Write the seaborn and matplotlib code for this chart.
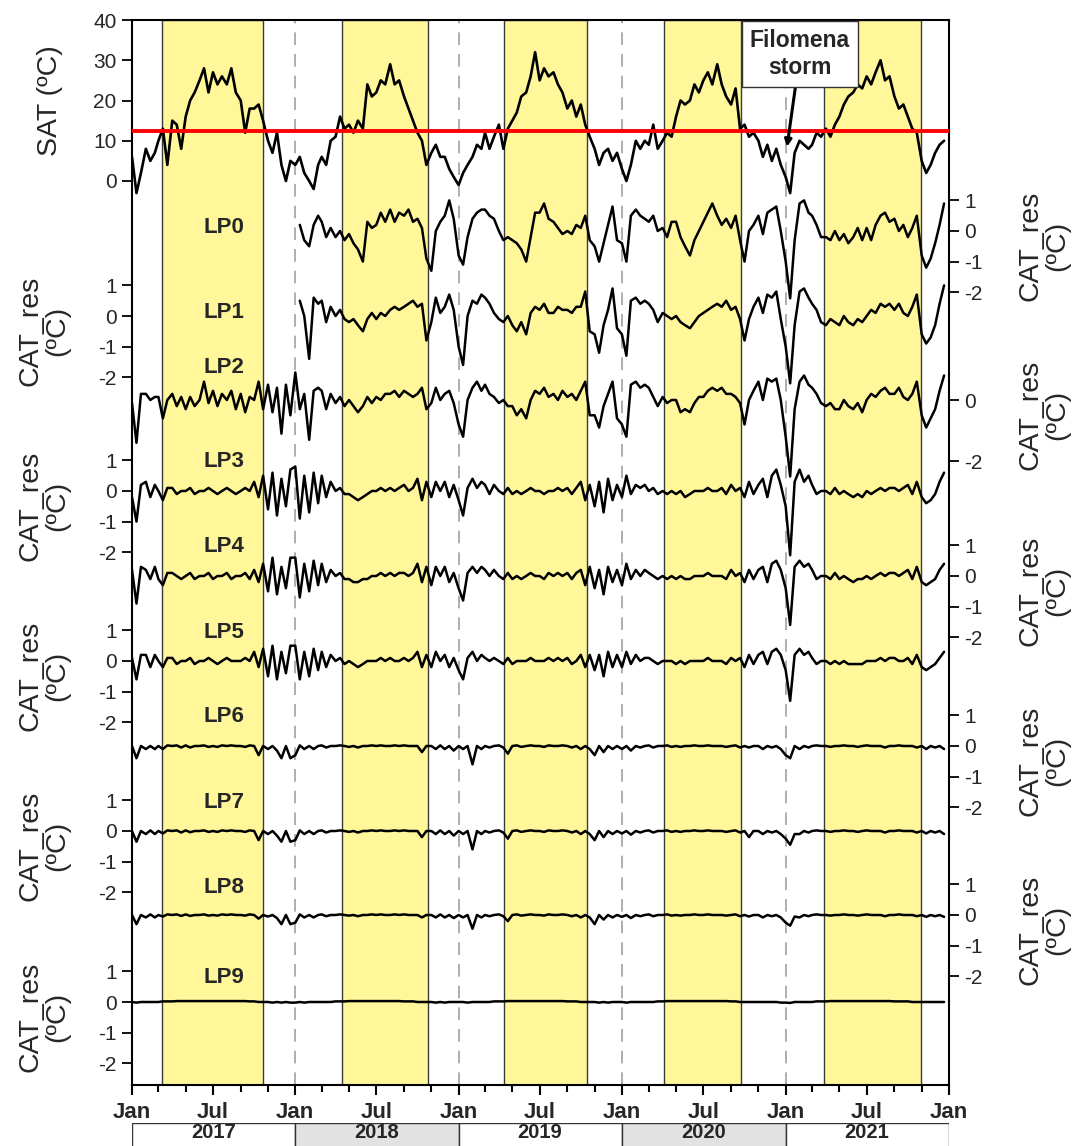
import numpy as np
import pandas as pd
import matplotlib
matplotlib.use('Agg')
import matplotlib.pyplot as plt
import matplotlib.dates as mdates
import matplotlib.transforms as mtransforms
import seaborn as sns

sns.set_theme(style='ticks')
plt.rcParams['font.family'] = ['Liberation Sans', 'DejaVu Sans']
plt.rcParams['axes.unicode_minus'] = False

years = [2017, 2018, 2019, 2020, 2021]
sample_days = [1, 11, 21]

sat = [6, -3, 2, 8, 5, 7, 10, 13, 4, 15, 14, 8, 16, 20, 22, 25, 28, 22, 27, 24, 26, 24, 28, 22, 20, 12, 18, 18, 19, 15, 10, 7, 12, 4, 0, 5,
       4, 6, 2, 0, -2, 4, 6, 4, 10, 11, 16, 13, 14, 12, 15, 13, 24, 21, 22, 25, 24, 29, 24, 25, 21, 18, 15, 12, 10, 4, 7, 9, 6, 6, 3, 1,
       -1, 2, 4, 6, 9, 8, 12, 8, 11, 14, 8, 13, 15, 17, 21, 22, 26, 32, 25, 28, 26, 27, 24, 22, 18, 20, 16, 19, 14, 11, 8, 4, 7, 8, 5, 7,
       3, 0, 4, 10, 8, 10, 9, 14, 8, 10, 12, 11, 16, 20, 19, 20, 24, 22, 25, 27, 24, 29, 24, 21, 19, 23, 13, 14, 11, 12, 10, 6, 9, 5, 8, 4,
       1, -3, 7, 10, 9, 8, 9, 12, 11, 13, 11, 14, 16, 19, 21, 22, 24, 23, 26, 24, 27, 30, 25, 26, 21, 18, 19, 16, 13, 12, 5, 2, 4, 7, 9, 10]

# LP0 and LP1 start on 2018-01-11
lp0 = [0.2, -0.3, -0.5, 0.2, 0.5, 0.3, -0.2, 0.1, -0.2, 0.0, -0.3, -0.1, -0.4, -0.6, -1.0, 0.3, 0.1, 0.2, 0.6, 0.3, 0.7, 0.3, 0.6, 0.5, 0.7, 0.3, 0.4, 0.1, -0.9, -1.3, 0.0, 0.3, 0.5, 1.0, 0.4,
       -0.8, -1.1, -0.2, 0.4, 0.6, 0.7, 0.7, 0.5, 0.4, 0.0, -0.3, -0.2, -0.3, -0.4, -0.6, -1.0, -0.2, 0.6, 0.6, 0.9, 0.4, 0.3, 0.1, -0.1, 0.0, -0.1, 0.2, 0.1, 0.5, -0.3, -0.5, -1.0, -0.4, 0.2, 0.8, -0.3,
       -0.4, -1.0, 0.5, 0.7, 0.5, 0.4, 0.3, 0.5, 0.0, 0.1, -0.2, 0.3, 0.3, -0.2, -0.5, -0.8, -0.3, 0.0, 0.3, 0.6, 0.9, 0.5, 0.2, 0.4, 0.1, 0.5, -0.3, -1.0, 0.0, 0.2, 0.5, -0.1, 0.6, 0.7, 0.8, 0.0,
       -1.0, -2.2, -0.3, 0.9, 1.0, 0.6, 0.5, 0.2, -0.2, -0.2, -0.3, 0.0, -0.3, -0.1, -0.4, -0.2, 0.1, -0.3, 0.1, -0.3, 0.2, 0.5, 0.6, 0.3, 0.4, 0.0, 0.2, -0.2, 0.1, 0.5, -0.8, -1.2, -0.9, -0.4, 0.2, 0.9]
lp1 = [0.5, 0.0, -1.4, 0.6, 0.4, 0.5, -0.2, 0.3, 0.0, 0.2, -0.1, -0.2, -0.1, -0.3, -0.5, -0.1, 0.1, -0.1, 0.1, 0.0, 0.2, 0.3, 0.2, 0.3, 0.4, 0.5, 0.3, 0.4, -0.8, -0.2, 0.6, 0.1, 0.3, 0.7, 0.2,
       -1.0, -1.6, 0.0, 0.5, 0.4, 0.7, 0.6, 0.4, 0.1, -0.1, -0.2, 0.0, -0.3, -0.5, -0.2, -0.6, 0.1, 0.3, 0.2, 0.4, 0.1, 0.1, 0.3, 0.2, 0.2, 0.1, 0.3, 0.3, 0.8, -0.5, -0.6, -1.2, -0.3, 0.2, 0.9, -0.4,
       -0.6, -1.3, 0.5, 0.6, 0.4, 0.5, 0.4, 0.2, -0.2, 0.1, 0.0, -0.1, 0.0, -0.2, -0.3, -0.4, -0.2, 0.0, 0.1, 0.2, 0.3, 0.4, 0.3, 0.5, 0.2, 0.3, -0.1, -0.8, -0.1, 0.3, 0.6, 0.1, 0.7, 0.6, 0.8, -0.1,
       -1.0, -2.2, -0.3, 0.8, 0.9, 0.6, 0.4, 0.2, -0.2, -0.3, -0.1, -0.2, -0.3, 0.0, -0.2, -0.3, -0.1, -0.2, 0.0, 0.2, 0.1, 0.4, 0.3, 0.4, 0.2, 0.4, 0.1, 0.0, 0.3, 0.7, -0.6, -0.9, -0.7, -0.3, 0.4, 1.0]
lp2 = [-0.1, -1.4, 0.2, 0.2, 0.0, 0.1, 0.1, -0.6, 0.0, 0.2, -0.2, 0.1, -0.3, 0.1, -0.2, 0.0, 0.6, -0.1, 0.3, -0.2, 0.2, 0.0, 0.3, -0.3, 0.2, -0.4, 0.1, 0.0, 0.6, -0.3, 0.5, -0.4, 0.4, -1.1, 0.5, -0.5,
       0.9, -0.3, 0.2, -1.3, 0.3, 0.4, 0.3, -0.3, 0.2, -0.1, 0.1, -0.2, 0.0, -0.2, -0.4, -0.2, 0.1, -0.1, 0.1, 0.0, 0.2, 0.2, 0.3, 0.1, 0.3, 0.2, 0.1, 0.2, 0.4, -0.3, -0.1, 0.4, 0.0, 0.2, 0.3, -0.1,
       -0.8, -1.2, 0.0, 0.4, 0.6, 0.3, 0.5, 0.2, 0.1, -0.1, 0.0, -0.2, -0.2, -0.5, -0.3, -0.6, 0.0, 0.3, 0.2, 0.4, 0.1, 0.2, 0.0, 0.3, 0.1, 0.2, 0.0, 0.3, 0.6, -0.5, -0.5, -0.9, -0.2, 0.2, 0.6, -0.6,
       -0.8, -1.2, 0.5, 0.6, 0.4, 0.5, 0.4, 0.1, -0.2, 0.1, -0.1, 0.0, 0.0, -0.4, -0.3, -0.4, -0.1, 0.1, 0.1, 0.3, 0.4, 0.3, 0.4, 0.2, 0.2, 0.1, -0.1, -0.8, 0.0, 0.3, 0.6, 0.0, 0.7, 0.6, 0.7, 0.0,
       -1.2, -2.5, -0.3, 0.6, 0.8, 0.5, 0.4, 0.2, -0.1, -0.2, -0.1, -0.3, -0.3, 0.0, -0.2, -0.3, -0.1, -0.4, 0.0, 0.2, 0.1, 0.3, 0.4, 0.2, 0.2, 0.4, 0.1, 0.0, 0.2, 0.6, -0.5, -0.9, -0.6, -0.3, 0.3, 0.8]
lp3 = [-0.2, -1.0, 0.2, 0.3, -0.2, 0.2, 0.0, -0.3, 0.1, 0.1, -0.1, 0.0, 0.0, 0.1, -0.1, 0.0, 0.0, 0.1, 0.0, -0.1, 0.0, 0.1, 0.0, -0.1, 0.0, 0.1, 0.0, 0.3, -0.2, 0.5, -0.6, 0.6, -0.8, 0.4, -0.5, 0.7,
       0.8, -0.9, 0.5, -0.7, 0.6, -0.4, 0.5, -0.2, 0.3, 0.0, 0.1, -0.1, -0.1, -0.2, -0.3, -0.2, -0.1, 0.0, 0.0, 0.1, 0.0, 0.1, 0.0, 0.1, 0.2, 0.0, 0.1, 0.4, -0.3, 0.3, -0.2, 0.3, 0.0, 0.3, -0.2, 0.2,
       -0.3, -0.8, 0.1, 0.4, 0.1, 0.3, 0.2, -0.1, 0.2, 0.0, -0.1, 0.1, -0.1, 0.0, -0.1, 0.0, 0.1, 0.0, 0.0, -0.1, 0.0, 0.0, 0.1, 0.0, 0.1, -0.1, 0.1, 0.3, -0.3, 0.2, -0.5, 0.3, -0.7, 0.4, -0.3, 0.2,
       -0.2, 0.5, -0.1, 0.2, 0.1, 0.2, 0.0, 0.1, -0.1, 0.0, -0.1, 0.0, -0.1, 0.0, -0.2, -0.1, 0.0, 0.0, 0.0, 0.1, 0.0, 0.0, 0.1, -0.1, 0.2, 0.0, 0.1, -0.2, 0.3, -0.1, 0.2, 0.4, -0.2, 0.5, 0.7, 0.2,
       -0.5, -2.1, 0.3, 0.7, 0.3, 0.5, 0.2, -0.1, 0.0, 0.0, -0.1, 0.1, -0.1, 0.0, -0.1, -0.2, -0.1, -0.2, 0.0, -0.1, 0.0, 0.1, 0.0, 0.1, 0.1, 0.0, 0.1, 0.2, -0.1, 0.3, -0.2, -0.4, -0.3, -0.1, 0.3, 0.6]
lp4 = [0.2, -0.9, 0.3, 0.2, -0.1, 0.3, -0.1, -0.3, 0.1, 0.1, 0.0, -0.1, 0.0, 0.1, -0.1, 0.0, 0.0, 0.1, -0.1, 0.0, 0.0, 0.1, -0.1, 0.0, 0.0, 0.1, -0.1, 0.2, -0.2, 0.4, -0.5, 0.6, -0.6, 0.3, -0.4, 0.6,
       0.6, -0.7, 0.4, -0.5, 0.5, -0.3, 0.4, -0.2, 0.2, 0.0, 0.1, -0.1, -0.1, -0.2, -0.2, -0.1, -0.1, 0.0, 0.0, 0.1, 0.0, 0.1, 0.0, 0.1, 0.1, 0.0, 0.1, 0.4, -0.2, 0.3, -0.3, 0.3, 0.0, 0.3, -0.2, 0.1,
       -0.4, -0.8, 0.1, 0.3, 0.1, 0.3, 0.2, 0.0, 0.2, 0.0, -0.1, 0.1, -0.1, 0.0, -0.1, 0.0, 0.1, 0.0, 0.0, -0.1, 0.1, 0.0, 0.1, 0.0, 0.1, -0.1, 0.1, 0.2, -0.3, 0.3, -0.4, 0.2, -0.6, 0.3, -0.2, 0.2,
       -0.3, 0.4, -0.1, 0.2, 0.0, 0.2, 0.1, 0.0, -0.1, 0.0, -0.1, 0.0, -0.1, 0.0, -0.1, -0.1, 0.0, 0.0, 0.0, 0.1, 0.0, 0.0, 0.0, -0.1, 0.2, 0.0, 0.1, -0.2, 0.2, -0.1, 0.2, 0.3, -0.2, 0.4, 0.5, 0.2,
       -0.4, -1.6, 0.3, 0.5, 0.3, 0.4, 0.2, -0.1, 0.0, 0.0, -0.1, 0.1, -0.1, 0.0, -0.1, -0.2, -0.1, -0.1, 0.0, -0.1, 0.0, 0.1, 0.0, 0.1, 0.1, 0.0, 0.1, 0.2, -0.1, 0.3, -0.2, -0.3, -0.2, -0.1, 0.2, 0.4]
lp5 = [0.1, -0.6, 0.2, 0.2, -0.2, 0.2, 0.0, -0.2, 0.1, 0.1, -0.1, 0.0, 0.0, 0.1, -0.1, 0.0, 0.0, 0.1, 0.0, -0.1, 0.0, 0.1, 0.0, 0.0, 0.0, 0.1, 0.0, 0.3, -0.2, 0.4, -0.5, 0.5, -0.6, 0.3, -0.4, 0.5,
       0.5, -0.6, 0.3, -0.5, 0.4, -0.3, 0.3, -0.2, 0.2, 0.0, 0.1, -0.1, 0.0, -0.1, -0.2, -0.1, 0.0, 0.0, 0.0, 0.1, 0.0, 0.1, 0.0, 0.0, 0.1, 0.0, 0.1, 0.3, -0.2, 0.2, -0.2, 0.3, 0.0, 0.2, -0.2, 0.1,
       -0.3, -0.6, 0.1, 0.3, 0.0, 0.2, 0.1, 0.0, 0.1, 0.0, -0.1, 0.1, -0.1, 0.0, 0.0, 0.0, 0.1, 0.0, 0.0, 0.0, 0.1, 0.0, 0.1, 0.0, 0.1, -0.1, 0.0, 0.2, -0.2, 0.2, -0.3, 0.2, -0.5, 0.3, -0.2, 0.2,
       -0.2, 0.3, -0.1, 0.2, 0.0, 0.1, 0.1, 0.0, -0.1, 0.0, 0.0, 0.0, -0.1, 0.0, -0.1, 0.0, 0.0, 0.0, 0.0, 0.1, 0.0, 0.0, 0.0, -0.1, 0.1, 0.0, 0.1, -0.2, 0.2, -0.1, 0.2, 0.3, -0.1, 0.3, 0.4, 0.2,
       -0.3, -1.3, 0.2, 0.4, 0.2, 0.3, 0.1, -0.1, 0.0, 0.0, -0.1, 0.0, -0.1, 0.0, -0.1, -0.1, -0.1, -0.1, 0.0, 0.0, 0.0, 0.1, 0.0, 0.1, 0.1, 0.0, 0.0, 0.1, -0.1, 0.2, -0.2, -0.3, -0.2, -0.1, 0.1, 0.3]
lp6 = [0.0, -0.4, 0.0, -0.1, 0.0, -0.1, 0.0, -0.1, 0.02, 0.0, 0.02, -0.05, 0.02, -0.05, 0.0, 0.0, 0.02, -0.03, 0.0, -0.03, 0.02, 0.0, 0.02, 0.0, 0.0, -0.03, 0.02, 0.0, -0.3, 0.0, -0.1, 0.0, -0.15, -0.4, 0.0, -0.4,
       -0.3, 0.02, -0.1, 0.0, -0.1, 0.0, 0.02, -0.05, 0.0, 0.0, 0.02, 0.0, -0.03, 0.0, -0.05, 0.0, 0.0, 0.02, 0.0, 0.02, 0.0, 0.0, 0.02, 0.0, 0.02, 0.0, 0.0, 0.0, -0.2, 0.0, 0.0, -0.1, 0.02, -0.1, 0.0, -0.15,
       0.0, -0.1, 0.0, -0.6, 0.0, -0.1, 0.0, -0.05, 0.0, 0.02, -0.05, -0.25, 0.0, 0.02, -0.03, 0.0, 0.02, 0.0, 0.0, -0.03, 0.02, 0.0, 0.0, 0.02, 0.0, -0.05, 0.0, -0.1, 0.0, -0.1, -0.3, 0.0, -0.2, 0.0, -0.1, 0.0,
       -0.1, 0.0, -0.15, 0.0, -0.05, 0.0, 0.02, -0.05, 0.0, 0.0, 0.02, -0.03, 0.0, -0.03, 0.0, 0.0, 0.02, 0.0, 0.0, 0.02, 0.0, 0.0, 0.0, -0.03, 0.0, 0.02, -0.05, 0.0, -0.05, 0.0, 0.0, -0.1, 0.0, -0.05, 0.0, -0.1,
       -0.3, -0.4, 0.0, -0.1, 0.0, -0.05, 0.0, 0.02, 0.0, 0.0, -0.03, 0.0, 0.0, 0.02, 0.0, 0.0, -0.03, 0.0, 0.02, 0.0, 0.0, 0.0, -0.05, 0.0, 0.0, 0.02, 0.0, 0.0, 0.0, -0.05, 0.0, -0.1, 0.0, -0.05, 0.0, -0.1]
lp7 = [0.0, -0.35, 0.0, -0.1, 0.02, -0.1, 0.0, -0.08, 0.02, 0.0, 0.02, -0.05, 0.02, -0.04, 0.0, 0.0, 0.02, -0.03, 0.0, -0.03, 0.02, 0.0, 0.02, 0.0, 0.0, -0.03, 0.02, 0.0, -0.3, 0.0, -0.1, 0.0, -0.15, -0.35, 0.0, -0.35,
       -0.3, 0.02, -0.1, 0.0, -0.1, 0.0, 0.02, -0.05, 0.0, 0.0, 0.02, 0.0, -0.03, 0.0, -0.05, 0.0, 0.0, 0.02, 0.0, 0.02, 0.0, 0.0, 0.02, 0.0, 0.02, 0.0, 0.0, 0.0, -0.2, 0.0, 0.0, -0.1, 0.02, -0.1, 0.0, -0.15,
       0.0, -0.1, 0.0, -0.6, 0.0, -0.1, 0.0, -0.05, 0.0, 0.02, -0.05, -0.25, 0.0, 0.02, -0.03, 0.0, 0.02, 0.0, 0.0, -0.03, 0.02, 0.0, 0.0, 0.02, 0.0, -0.05, 0.0, -0.1, 0.0, -0.1, -0.3, 0.0, -0.2, 0.0, -0.1, 0.0,
       -0.08, 0.0, -0.12, 0.0, -0.05, 0.0, 0.02, -0.05, 0.0, 0.0, 0.02, -0.03, 0.0, -0.03, 0.0, 0.0, 0.02, 0.0, 0.0, 0.02, 0.0, 0.0, 0.0, -0.03, 0.0, 0.02, -0.05, 0.0, -0.2, 0.0, 0.0, -0.1, 0.0, -0.05, 0.0, -0.1,
       -0.25, -0.45, -0.1, -0.1, 0.0, -0.05, 0.0, 0.02, 0.0, 0.0, -0.03, 0.0, 0.0, 0.02, 0.0, 0.0, -0.03, 0.0, 0.02, 0.0, 0.0, 0.0, -0.05, 0.0, 0.0, 0.02, 0.0, 0.0, 0.0, -0.05, 0.0, -0.08, 0.0, -0.05, 0.0, -0.1]
lp8 = [0.0, -0.3, 0.0, -0.08, 0.02, -0.08, 0.0, -0.05, 0.02, 0.0, 0.02, -0.03, 0.02, -0.03, 0.0, 0.0, 0.02, -0.02, 0.0, -0.02, 0.02, 0.0, 0.02, 0.0, 0.0, -0.02, 0.02, 0.0, -0.12, 0.0, -0.05, 0.0, -0.1, -0.3, 0.0, -0.3,
       -0.25, 0.02, -0.08, 0.0, -0.08, 0.0, 0.02, -0.04, 0.0, 0.0, 0.02, 0.0, -0.02, 0.0, -0.04, 0.0, 0.0, 0.02, 0.0, 0.02, 0.0, 0.0, 0.02, 0.0, 0.02, 0.0, 0.0, 0.0, -0.08, 0.0, 0.0, -0.08, 0.02, -0.08, 0.0, -0.1,
       0.0, -0.08, 0.0, -0.45, 0.0, -0.08, 0.0, -0.04, 0.0, 0.02, -0.04, -0.2, 0.0, 0.02, -0.02, 0.0, 0.02, 0.0, 0.0, -0.02, 0.02, 0.0, 0.0, 0.02, 0.0, -0.04, 0.0, -0.08, 0.0, -0.08, -0.3, 0.0, -0.15, 0.0, -0.08, 0.0,
       -0.06, 0.0, -0.1, 0.0, -0.04, 0.0, 0.02, -0.04, 0.0, 0.0, 0.02, -0.02, 0.0, -0.02, 0.0, 0.0, 0.02, 0.0, 0.0, 0.02, 0.0, 0.0, 0.0, -0.02, 0.0, 0.02, -0.04, 0.0, -0.05, 0.0, 0.0, -0.08, 0.0, -0.04, 0.0, -0.08,
       -0.25, -0.35, -0.05, -0.08, 0.0, -0.04, 0.0, 0.02, 0.0, 0.0, -0.02, 0.0, 0.0, 0.02, 0.0, 0.0, -0.02, 0.0, 0.02, 0.0, 0.0, 0.0, -0.04, 0.0, 0.0, 0.02, 0.0, 0.0, 0.0, -0.04, 0.0, -0.06, 0.0, -0.04, 0.0, -0.06]
lp9 = [0.0, -0.02, 0.0, 0.0, 0.0, 0.0, 0.0, 0.02, 0.02, 0.02, 0.03, 0.03, 0.03, 0.03, 0.03, 0.03, 0.03, 0.03, 0.03, 0.03, 0.03, 0.03, 0.03, 0.03, 0.03, 0.03, 0.02, 0.02, 0.0, 0.0, 0.0, -0.02, 0.0, -0.02, 0.0, -0.02,
       -0.02, 0.0, -0.02, 0.0, 0.0, 0.0, 0.0, 0.0, 0.0, 0.02, 0.02, 0.02, 0.03, 0.03, 0.03, 0.03, 0.03, 0.03, 0.03, 0.03, 0.03, 0.03, 0.03, 0.03, 0.02, 0.02, 0.02, 0.0, 0.0, 0.0, 0.0, -0.02, 0.0, -0.02, 0.0, 0.0,
       0.0, 0.0, -0.02, 0.0, 0.0, 0.0, 0.0, 0.0, 0.02, 0.02, 0.02, 0.03, 0.03, 0.03, 0.03, 0.03, 0.03, 0.03, 0.03, 0.03, 0.03, 0.03, 0.03, 0.03, 0.02, 0.02, 0.02, 0.0, 0.0, 0.0, 0.0, -0.02, 0.0, -0.02, 0.0, 0.0,
       0.0, -0.02, 0.0, 0.0, 0.0, 0.0, 0.0, 0.0, 0.02, 0.02, 0.03, 0.03, 0.03, 0.03, 0.03, 0.03, 0.03, 0.03, 0.03, 0.03, 0.03, 0.03, 0.03, 0.03, 0.02, 0.02, 0.0, 0.0, 0.0, 0.0, 0.0, 0.0, 0.0, 0.0, 0.0, -0.02,
       -0.02, -0.03, 0.0, 0.0, 0.0, 0.0, 0.0, 0.02, 0.02, 0.02, 0.03, 0.03, 0.03, 0.03, 0.03, 0.03, 0.03, 0.03, 0.03, 0.03, 0.03, 0.03, 0.03, 0.03, 0.02, 0.02, 0.02, 0.02, 0.0, 0.0, 0.0, 0.0, 0.0, 0.0, 0.0, 0.0]

lp_names = ['LP0', 'LP1', 'LP2', 'LP3', 'LP4', 'LP5', 'LP6', 'LP7', 'LP8', 'LP9']
lp_series = [lp0, lp1, lp2, lp3, lp4, lp5, lp6, lp7, lp8, lp9]

# warm season (SAT above threshold) shading
warm_start = ['2017-03-10', '2018-04-16', '2019-04-12', '2020-04-04', '2021-03-28']
warm_end = ['2017-10-20', '2018-10-24', '2019-10-14', '2020-09-24', '2021-10-30']
sat_threshold = 12.3

# ---- build the date grid ----
dates = pd.to_datetime([f'{y}-{m:02d}-{d:02d}' for y in years for m in range(1, 13) for d in sample_days])

# ---- layout in pixels ----
W, H = 1076, 1146
x_left, x_right = 132, 949
y_top, y_bot = 20, 1085
rect = [x_left / W, 1 - y_bot / H, (x_right - x_left) / W, (y_bot - y_top) / H]
sat_px = 4.025
sat_zero = 181
unit_px = 30.6
lp_zero = [231, 316, 400, 491, 576, 661, 746, 831, 915, 1002]
lp_label_y = [0.1, 0.13, 1.05, 0.95, 0.95, 0.92, 0.95, 0.92, 0.9, 0.8]

xmin, xmax = pd.Timestamp('2017-01-01'), pd.Timestamp('2022-01-01')

fig = plt.figure(figsize=(W / 100, H / 100), dpi=100)
ax = fig.add_axes(rect)
ax.set_xlim(xmin, xmax)
ax.set_ylim(-(y_bot - sat_zero) / sat_px, (sat_zero - y_top) / sat_px)

for s, e in zip(warm_start, warm_end):
    ax.axvspan(pd.Timestamp(s), pd.Timestamp(e), facecolor='#fff79a', edgecolor='#3a3a3a', lw=1, zorder=0)
for y in years[1:]:
    ax.axvline(pd.Timestamp(f'{y}-01-01'), color='#a8a8a8', lw=1.3, ls=(0, (7, 5)), zorder=0.5)

ax.axhline(sat_threshold, color='red', lw=2.8, zorder=4)
sns.lineplot(x=dates, y=sat, ax=ax, color='black', lw=1.9, zorder=3)
ax.set_xlim(xmin, xmax)
ax.set_xlabel('')
ax.set_ylabel('')
ax.set_yticks([0, 10, 20, 30, 40])
for sp in ax.spines.values():
    sp.set_visible(True)
    sp.set_color('black')
    sp.set_linewidth(1.5)

ax.xaxis.set_major_locator(mdates.MonthLocator(bymonth=[1, 7]))
ax.xaxis.set_major_formatter(mdates.DateFormatter('%b'))
ax.xaxis.set_minor_locator(mdates.MonthLocator(bymonth=[3, 5, 9, 11]))
ax.tick_params(axis='x', which='major', length=7, width=1.5, labelsize=16, pad=5, color='black')
ax.tick_params(axis='x', which='minor', length=5, width=1.5, color='black')
ax.tick_params(axis='y', length=7, width=1.3, labelsize=15, pad=4, color='black')
for lab in ax.get_xticklabels():
    lab.set_fontweight('bold')

left_tf = mtransforms.blended_transform_factory(ax.transAxes, ax.transData)
ax.text(-0.1, 20, 'SAT (ºC)', transform=left_tf, rotation=90, ha='center', va='center', fontsize=20.5)

ax.annotate('Filomena\nstorm', xy=(pd.Timestamp('2021-01-04'), 8.5), xytext=(pd.Timestamp('2021-02-02'), 31.5),
            ha='center', va='center', fontsize=16.5, fontweight='bold', zorder=10,
            bbox=dict(boxstyle='square,pad=0.35', fc='white', ec='#333333', lw=1),
            arrowprops=dict(arrowstyle='-|>', color='black', lw=2.2, mutation_scale=10, shrinkA=0, shrinkB=0))

# ---- stacked residual series, each on its own y scale ----
for k, (name, vals, y0) in enumerate(zip(lp_names, lp_series, lp_zero)):
    a = fig.add_axes(rect, label=name)
    a.patch.set_visible(False)
    x = dates[len(dates) - len(vals):]
    sns.lineplot(x=x, y=vals, ax=a, color='black', lw=1.8)
    a.set_xlim(xmin, xmax)
    a.set_ylim(-(y_bot - y0) / unit_px, (y0 - y_top) / unit_px)
    for sp in a.spines.values():
        sp.set_visible(False)
    a.xaxis.set_visible(False)
    a.set_xlabel('')
    a.set_ylabel('')
    ticks = [0, -2] if name == 'LP2' else [1, 0, -1, -2]
    a.set_yticks(ticks)
    a.set_yticklabels([str(t) for t in ticks])
    if k % 2 == 0:
        a.yaxis.tick_right()
        lx = 1.116
    else:
        a.yaxis.tick_left()
        lx = -0.108
    a.tick_params(axis='y', length=7, width=1.3, labelsize=15, pad=4, color='black')
    tf = mtransforms.blended_transform_factory(a.transAxes, a.transData)
    a.text(lx, -0.5, 'CAT_res\n(ºC)', transform=tf, rotation=90, ha='center', va='center',
           fontsize=20.5, multialignment='center', linespacing=1.0)
    a.text(0.1126, lp_label_y[k], name, transform=tf, ha='center', va='center', fontsize=16, fontweight='bold')

# ---- year strip under the time axis ----
yr = fig.add_axes([x_left / W, -4 / H, (x_right - x_left) / W, 27 / H])
yr.set_xlim(xmin, xmax)
for i, y in enumerate(years):
    yr.axvspan(pd.Timestamp(f'{y}-01-01'), pd.Timestamp(f'{y + 1}-01-01'),
               facecolor='white' if i % 2 == 0 else '#e2e2e2', edgecolor='#333333', lw=1)
    yr.text(pd.Timestamp(f'{y}-07-02'), 0.63, str(y), transform=yr.get_xaxis_transform(),
            ha='center', va='center', fontsize=14.5, fontweight='bold')
yr.axis('off')

fig.savefig('out.png', dpi=100)
